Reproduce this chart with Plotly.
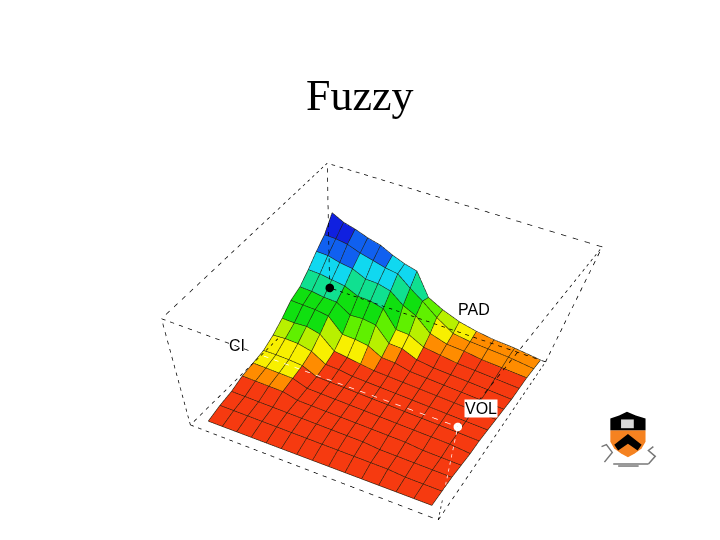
import numpy as np
import plotly.graph_objects as go

# surface heights, one row per CI step (back to front), one column per PAD step
HEIGHT = [
    [56, 52, 50, 47, 45, 41, 38, 36, 20, 15, 11, 9, 8, 8, 7],
    [46, 46, 45, 42, 40, 38, 37, 30, 24, 16, 9, 8, 8, 8, 7],
    [40, 40, 38, 37, 33, 33, 31, 24, 20, 11, 8, 8, 7, 7, 7],
    [33, 33, 32, 31, 27, 27, 25, 13, 13, 8, 7, 6, 6, 6, 6],
    [27, 27, 26, 26, 20, 21, 20, 10, 10, 6, 5, 5, 5, 5, 5],
    [24, 24, 24, 23, 13, 13, 12, 7, 7, 5, 5, 5, 5, 5, 5],
    [18, 18, 19, 17, 8, 7, 6, 5, 5, 5, 5, 5, 5, 5, 5],
    [13, 14, 14, 12, 6, 6, 5, 5, 5, 5, 5, 5, 5, 5, 5],
    [9.5, 10, 10, 9.5, 5, 5, 5, 5, 5, 5, 5, 5, 5, 5, 5],
    [8.5, 8.5, 8.5, 8.5, 5, 5, 5, 5, 5, 5, 5, 5, 5, 5, 4],
    [7.5, 7.5, 7.5, 7.5, 5, 5, 5, 5, 5, 5, 5, 5, 4, 4, 4],
    [5, 5, 5, 5, 5, 5, 5, 5, 5, 5, 4, 4, 4, 4, 4],
    [4, 4, 4, 4, 4, 4, 4, 4, 4, 4, 4, 4, 3, 3, 3],
    [2, 2, 2, 2, 2, 2, 2, 2, 2, 2, 2, 2, 2, 2, 2],
]
# where the PAD nodes sit along the back edge, the front edge is evenly spaced
PAD_BACK = [0, .06, .12, .185, .25, .31, .37, .43, .49, .56, .64, .72, .80, .89, 1]
# footprint corners of the surface: back, left, right, front
FOOT_X = [0.05, 1.03, 0.107, 0.92]
FOOT_Y = [0.04, 0.075, 1.01, 0.916]
BAND_TOPS = [7, 9, 12, 16, 20, 26, 32, 39, 46, 100]
BAND_COLORS = ['#f63a10', '#ff8c00', '#f8f000', '#b8f000', '#60f000', '#10e010', '#10e090', '#10d8f0', '#1060f0', '#1020e0']

# dashed box corners: BB, BL, BR, BF, TB, TL, TR, TF
BOX_X = [0.08, 1.07, 0.05, 0.948, -0.12, 1.08, -0.05, 1.0]
BOX_Y = [0.02, 0.019, 1.02, 0.951, -0.08, 0.04, 1.11, 1.0]
BOX_Z = [0, 0, 0, 0, 75, 75, 75, 75]
BOX_EDGES = [(1, 3), (3, 2), (2, 0), (4, 5), (6, 4), (5, 7), (7, 6), (0, 4), (1, 5), (2, 6), (3, 7), (0, 1)]

LABELS = ['CI', 'PAD', 'VOL']

# page pixel helper for the crest and labels
W, H = 720, 540


def px(x, y):
    return x / W, 1 - y / H


def path(points, close=True):
    s = ''
    for i, (x, y) in enumerate(points):
        a, b = px(x, y)
        s += ('M' if i == 0 else 'L') + '%.4f,%.4f ' % (a, b)
    return s + ('Z' if close else '')


z = np.array(HEIGHT, dtype=float)
nv, nu = z.shape
s = np.linspace(0, 1, nv)
uu = np.array([[(1 - q) * PAD_BACK[c] + q * c / (nu - 1) for c in range(nu)] for q in s])
vv = np.array([[q] * nu for q in s])
bx = lambda c: (1 - vv) * (1 - uu) * c[0] + vv * (1 - uu) * c[1] + (1 - vv) * uu * c[2] + vv * uu * c[3]
X = bx(FOOT_X)
Y = bx(FOOT_Y)

idx = np.arange(nv * nu).reshape(nv, nu)
i, j, k, fc = [], [], [], []
for r in range(nv - 1):
    for c in range(nu - 1):
        a, b, d, e = idx[r, c], idx[r, c + 1], idx[r + 1, c], idx[r + 1, c + 1]
        val = z[r:r + 2, c:c + 2].mean()
        col = BAND_COLORS[np.searchsorted(BAND_TOPS, val)]
        i += [a, b]
        j += [b, e]
        k += [d, d]
        fc += [col, col]

fig = go.Figure()
fig.add_trace(go.Mesh3d(x=X.ravel(), y=Y.ravel(), z=z.ravel(), i=i, j=j, k=k, facecolor=fc, flatshading=True,
                        lighting=dict(ambient=1, diffuse=0, specular=0, fresnel=0), hoverinfo='skip'))

gx, gy, gz = [], [], []
for r in range(nv):
    gx += list(X[r]) + [None]
    gy += list(Y[r]) + [None]
    gz += list(z[r] + 0.3) + [None]
for c in range(nu):
    gx += list(X[:, c]) + [None]
    gy += list(Y[:, c]) + [None]
    gz += list(z[:, c] + 0.3) + [None]
fig.add_trace(go.Scatter3d(x=gx, y=gy, z=gz, mode='lines', line=dict(color='#202010', width=1.2), hoverinfo='skip'))


def edge(a, b, t0, t1, color, n=26):
    p = np.array([BOX_X[a], BOX_Y[a], BOX_Z[a]], dtype=float)
    q = np.array([BOX_X[b], BOX_Y[b], BOX_Z[b]], dtype=float)
    dx, dy, dz = [], [], []
    for m in range(int(n * t0), int(n * t1)):
        f0, f1 = m / n, (m + 0.45) / n
        for col, v0 in zip((dx, dy, dz), range(3)):
            col += [p[v0] + f0 * (q[v0] - p[v0]), p[v0] + f1 * (q[v0] - p[v0]), None]
    fig.add_trace(go.Scatter3d(x=dx, y=dy, z=dz, mode='lines', scene='scene2',
                               line=dict(color=color, width=1.5), hoverinfo='skip'))


for a, b in BOX_EDGES:
    n = 14 if BOX_Z[a] != BOX_Z[b] else 28
    if (a, b) == (5, 7):
        edge(a, b, 0, 0.36, 'black', n)
        edge(a, b, 0.36, 1, 'white', n)
    elif (a, b) == (3, 7):
        edge(a, b, 0, 0.35, 'black', n)
        edge(a, b, 0.35, 1, 'white', n)
    elif (a, b) == (0, 1):
        edge(a, b, 0.45, 1, 'black', n)  # runs under the surface before that
    else:
        edge(a, b, 0, 1, 'black', n)
fig.add_trace(go.Scatter3d(x=[BOX_X[0]], y=[BOX_Y[0]], z=[BOX_Z[0]], mode='markers', scene='scene2',
                           marker=dict(color='black', size=5), hoverinfo='skip'))
fig.add_trace(go.Scatter3d(x=[BOX_X[7]], y=[BOX_Y[7]], z=[BOX_Z[7]], mode='markers', scene='scene2',
                           marker=dict(color='white', size=5), hoverinfo='skip'))

axis = dict(visible=False, showspikes=False)
cam = dict(eye=dict(x=1.581, y=0.929, z=1.674), center=dict(x=0.469, y=0.224, z=0.684),
           up=dict(x=-1.923, y=-1.137, z=1))
scene = dict(xaxis=dict(axis, range=[-0.3, 1.3]), yaxis=dict(axis, range=[-0.3, 1.3]), zaxis=dict(axis, range=[-30, 105]),
             aspectmode='manual', aspectratio=dict(x=1.6, y=1.739, z=1.028), camera=cam,
             domain=dict(x=[0, 1], y=[0, 1]), bgcolor='rgba(0,0,0,0)')

shapes = [
    dict(type='path', path=path([(616, 435), (652, 435), (652, 447), (648, 454), (641, 459), (634, 463), (627, 459),
                                 (620, 454), (616, 447)]), fillcolor='#f58220', line_width=0),
    dict(type='path', path=path([(616, 423), (625, 420), (633, 416), (642, 420), (652, 423), (652, 435), (616, 435)]),
         fillcolor='black', line_width=0),
    dict(type='path', path=path([(634, 439), (648, 450), (644, 456), (634, 449), (624, 456), (620, 450)]),
         fillcolor='black', line_width=0),
    dict(type='path', path=path([(627, 424), (640, 424), (640, 433), (627, 433)]), fillcolor='white', line_width=0,
         opacity=0.85),
]
for pts in [[(607, 452), (612, 450), (618, 458), (610, 468)], [(660, 452), (655, 456), (662, 462), (655, 470)],
            [(624, 472), (645, 472)], [(619, 470), (655, 470)]]:
    shapes.append(dict(type='path', path=path(pts, close=False), line=dict(color='#777777', width=1.5)))

anns = []
for text, lx, ly, bg in zip(LABELS, [234, 477, 484], [348, 311, 413], ['rgba(0,0,0,0)', 'rgba(0,0,0,0)', 'white']):
    a, b = px(lx, ly)
    anns.append(dict(x=a, y=b, xref='paper', yref='paper', text=text, showarrow=False, bgcolor=bg, borderpad=0,
                     xanchor='center', yanchor='middle', font=dict(family='Liberation Sans', size=16, color='black')))
a, b = px(360, 90)
anns.append(dict(x=a, y=b, xref='paper', yref='paper', text='Fuzzy', showarrow=False, xanchor='center', yanchor='middle',
                 font=dict(family='Liberation Serif', size=44, color='black')))

fig.update_layout(margin=dict(l=0, r=0, t=0, b=0), showlegend=False, paper_bgcolor='white',
                  scene=scene, scene2=scene, shapes=shapes, annotations=anns)
fig.write_html("out.html")
